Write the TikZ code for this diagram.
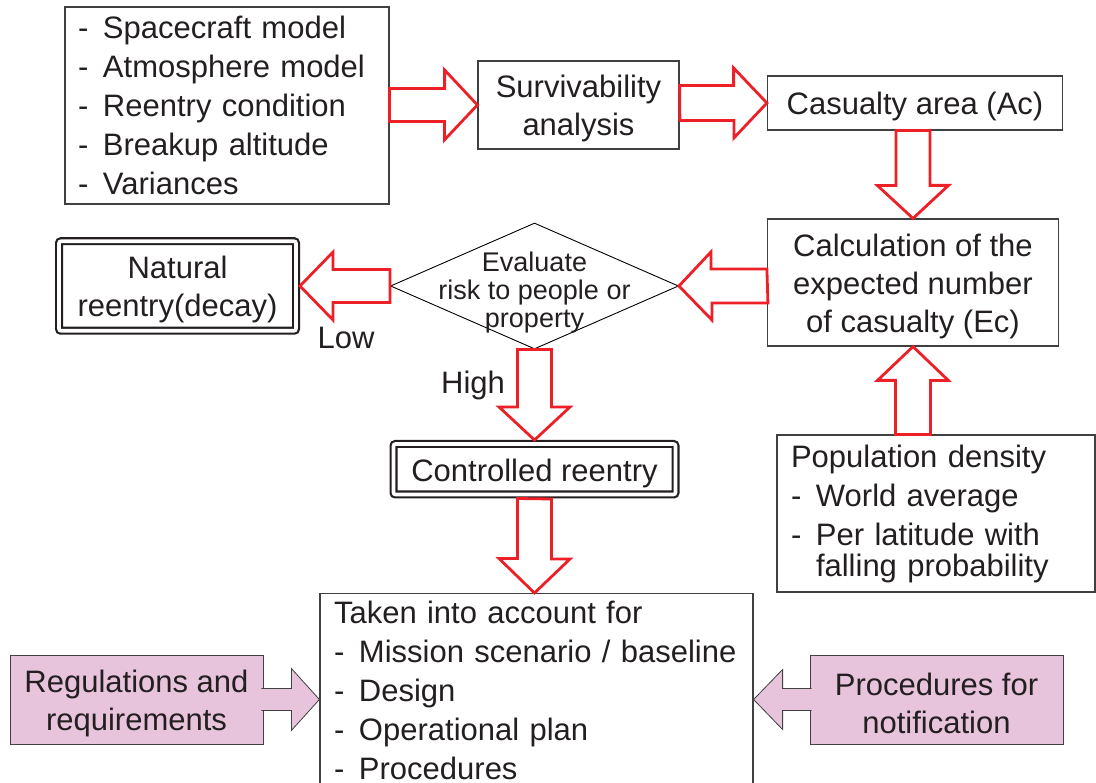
\documentclass[tikz,border=0pt]{standalone}
\usepackage{fontspec}
\setmainfont{Liberation Sans}
\usetikzlibrary{shapes.geometric}

\definecolor{arrowred}{RGB}{237,32,39}
\definecolor{boxgray}{RGB}{64,64,64}
\definecolor{notepink}{RGB}{232,196,220}
\definecolor{inkblack}{RGB}{35,31,32}

\newcommand{\dashitem}[1]{\makebox[25pt][l]{-}#1}
\newcommand{\lift}{\rule{0pt}{30pt}}

\begin{document}
\begin{tikzpicture}[x=1pt,y=-1pt,
  basebox/.style={draw=boxgray,line width=1.2pt,text=inkblack,inner sep=0pt},
  box/.style={basebox,align=center,font=\fontsize{31}{38}\selectfont},
  listbox/.style={basebox,align=left,inner xsep=13pt,font=\fontsize{31}{39}\selectfont},
  endbox/.style={box,draw=inkblack,line width=2.2pt,double,double distance=3.6pt,rounded corners=2pt,outer sep=4pt},
  notebox/.style={box,fill=notepink,line width=0.8pt},
  decision/.style={diamond,draw=black,line width=0.9pt,inner sep=0pt},
  redarrow/.style={draw=arrowred,line width=2.8pt,fill=white},
  pinkarrow/.style={draw=boxgray,line width=0.8pt,fill=notepink},
  tag/.style={text=inkblack,font=\fontsize{31}{38}\selectfont}]

\useasboundingbox (0,0) rectangle (1096,783);

% boxes
\node[listbox,text width=298pt,minimum height=197pt] (inputs) at (227,105.5)
  {\dashitem{Spacecraft model}\\ \dashitem{Atmosphere model}\\ \dashitem{Reentry condition}\\
   \dashitem{Breakup altitude}\\ \dashitem{Variances}};
\node[box,minimum width=201pt,minimum height=88pt] (surv) at (578.5,105) {\lift Survivability\\analysis};
\node[box,minimum width=295pt,minimum height=54pt] (casualty) at (915,103) {\lift Casualty area (Ac)};
\node[box,minimum width=291pt,minimum height=127pt] (calc) at (913,282.5)
  {\lift Calculation of the\\expected number\\of casualty (Ec)};
\node[decision,minimum width=288pt,minimum height=126pt] (risk) at (534.5,286) {};
\node[text=inkblack,align=center,font=\fontsize{27}{28}\selectfont] (risktext) at (534.5,293)
  {Evaluate\\risk to people or\\property};
\node[endbox,minimum width=237pt,minimum height=89.5pt] (natural) at (177.5,286) {\lift Natural\\reentry(decay)};
\node[endbox,minimum width=282pt,minimum height=50.5pt] (controlled) at (534.5,469.25) {\lift Controlled reentry};
\node[listbox,inner xsep=14pt,text width=290pt,minimum height=157pt] (pop) at (936,513.5)
  {Population density\\ \dashitem{World average}\\ \dashitem{Per latitude with}\\[-8pt]
   \hspace*{25pt}falling probability};
\node[listbox,inner xsep=14pt,inner ysep=7pt,text width=405pt,anchor=north] (taken) at (536.5,593)
  {Taken into account for\\ \dashitem{Mission scenario / baseline}\\ \dashitem{Design}\\
   \dashitem{Operational plan}\\ \dashitem{Procedures}};
\node[notebox,minimum width=253pt,minimum height=89pt] (regs) at (136.5,699.5) {\lift Regulations and\\requirements};
\node[notebox,minimum width=253pt,minimum height=89pt] (procs) at (936.5,699.5) {\lift Procedures for\\notification};

\node[tag] (low) at (346,338) {Low};
\node[tag] (high) at (473,385) {High};

% block arrows
\draw[redarrow] (inputs.east |- surv.west) ++(0,-16.5) -- ++(55,0) -- ++(0,-18.5) -- (surv.west)
  -- ++(-33,35) -- ++(0,-18.5) -- ++(-55,0) -- cycle;
\draw[redarrow] (surv.east |- casualty.west) ++(0,-17.5) -- ++(54,0) -- ++(0,-17.5) -- (casualty.west)
  -- ++(-33,35) -- ++(0,-17.5) -- ++(-54,0) -- cycle;
\draw[redarrow] (casualty.south -| calc.north) ++(-17,0) -- ++(0,55) -- ++(-18.5,0) -- (calc.north)
  -- ++(35.5,-33) -- ++(-18.5,0) -- ++(0,-55) -- cycle;
\draw[redarrow] (calc.west |- risk.east) ++(0,-17) -- ++(-56,0) -- ++(0,-17) -- (risk.east)
  -- ++(33,34) -- ++(0,-17) -- ++(56,0) -- cycle;
\draw[redarrow] (risk.west) ++(0,-16.5) -- ++(-57,0) -- ++(0,-17.5) -- (natural.east)
  -- ++(33,34) -- ++(0,-17.5) -- ++(57,0) -- cycle;
\draw[redarrow] (risk.south) ++(-17,0) -- ++(0,57.5) -- ++(-18.5,0) -- (controlled.north)
  -- ++(35.5,-33) -- ++(-18.5,0) -- ++(0,-57.5) -- cycle;
\draw[redarrow] (controlled.south) ++(-17,0) -- ++(0,60) -- ++(-18.5,0) -- (taken.north -| controlled.south)
  -- ++(35.5,-34) -- ++(-18.5,0) -- ++(0,-60) -- cycle;
\draw[redarrow] (pop.north -| calc.south) ++(-17.5,0) -- ++(0,-54) -- ++(-18,0) -- (calc.south)
  -- ++(35.5,34) -- ++(-18,0) -- ++(0,54) -- cycle;

% side inputs
\draw[pinkarrow] ([xshift=-2pt]regs.east) ++(0,-11) -- ++(30,0) -- ++(0,-20) -- (taken.west |- regs.east)
  -- ++(-28,31) -- ++(0,-20) -- ++(-30,0);
\draw[pinkarrow] ([xshift=2pt]procs.west) ++(0,-11) -- ++(-29,0) -- ++(0,-19) -- (taken.east |- procs.west)
  -- ++(29,30) -- ++(0,-19) -- ++(29,0);
\end{tikzpicture}
\end{document}
